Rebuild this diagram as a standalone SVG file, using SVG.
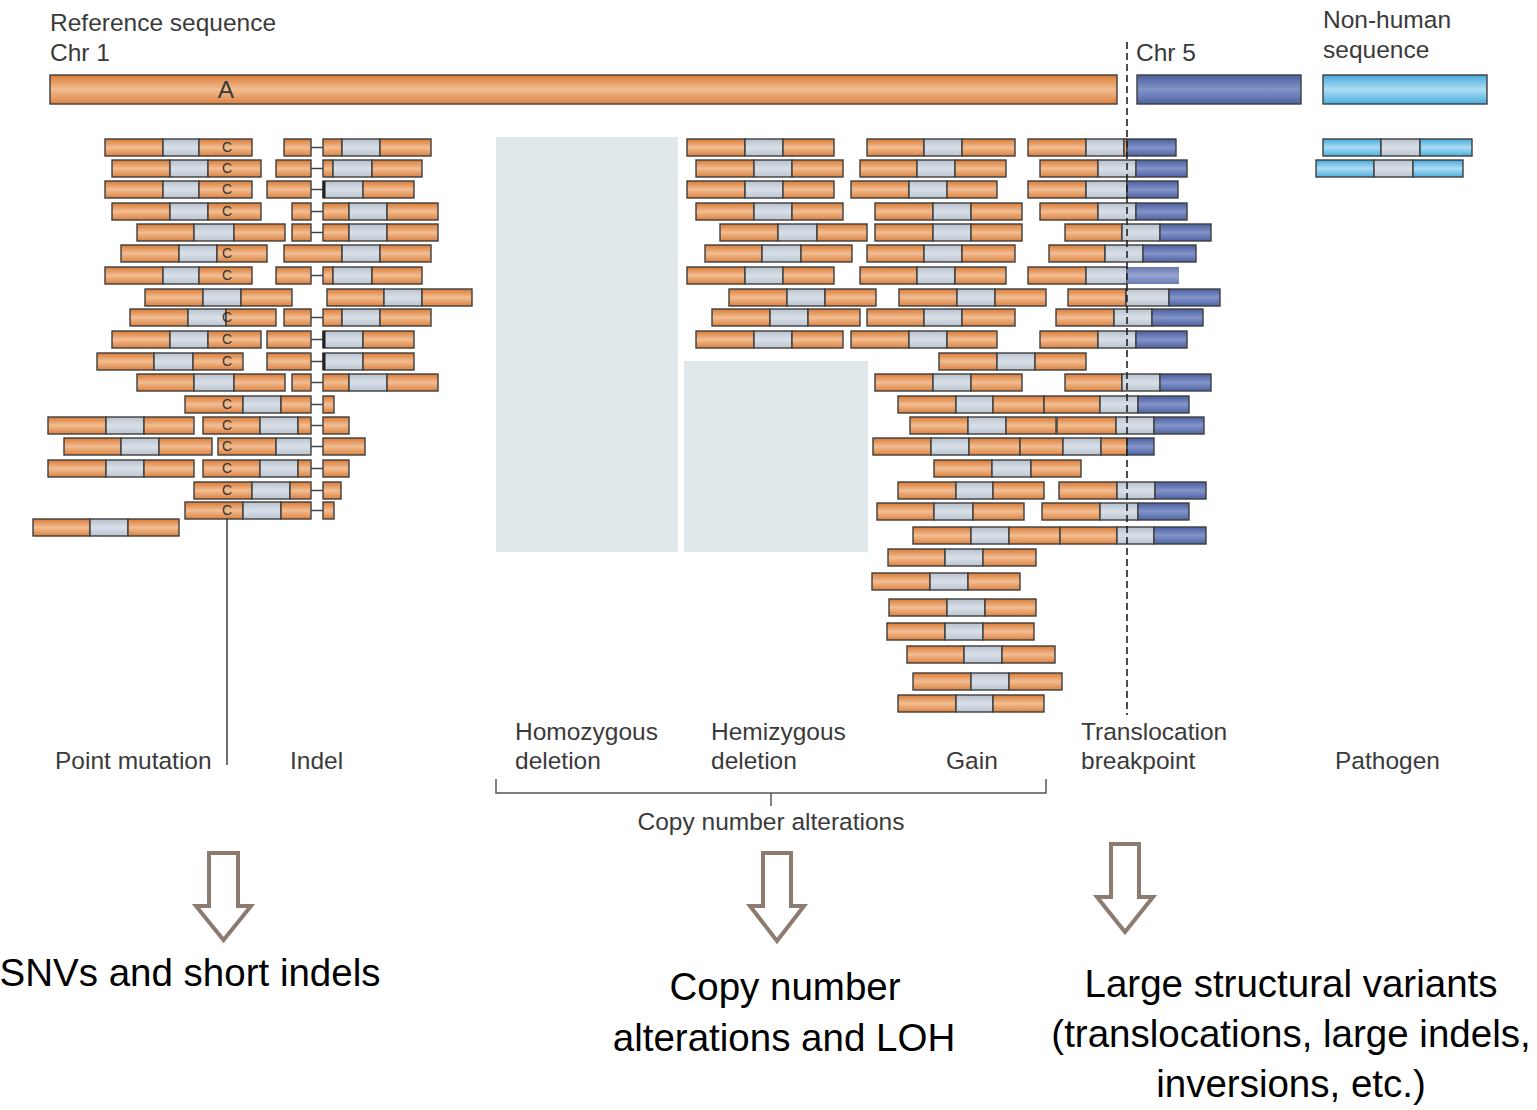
<svg xmlns="http://www.w3.org/2000/svg" width="1537" height="1110" viewBox="0 0 1537 1110">
  <defs>
    <linearGradient id="gO" x1="0" y1="0" x2="0" y2="1">
      <stop offset="0" stop-color="#d97b36"/>
      <stop offset="0.5" stop-color="#f2bd92"/>
      <stop offset="1" stop-color="#dc8240"/>
    </linearGradient>
    <linearGradient id="gG" x1="0" y1="0" x2="0" y2="1">
      <stop offset="0" stop-color="#b8c2ce"/>
      <stop offset="0.5" stop-color="#d8dfe7"/>
      <stop offset="1" stop-color="#bcc6d1"/>
    </linearGradient>
    <linearGradient id="gB" x1="0" y1="0" x2="0" y2="1">
      <stop offset="0" stop-color="#4b5f9f"/>
      <stop offset="0.5" stop-color="#8294c9"/>
      <stop offset="1" stop-color="#4f63a3"/>
    </linearGradient>
    <linearGradient id="gL" x1="0" y1="0" x2="0" y2="1">
      <stop offset="0" stop-color="#47a9dc"/>
      <stop offset="0.5" stop-color="#acdcf4"/>
      <stop offset="1" stop-color="#4cafe0"/>
    </linearGradient>
    <style>
      rect { stroke: #3e3e3e; stroke-width: 1.4; }
      .o { fill: url(#gO); }
      .g { fill: url(#gG); }
      .b { fill: url(#gB); }
      .l { fill: url(#gL); }
      .bf { fill: url(#gB); stroke: none; opacity: 0.85; }
      .zone { fill: #e1e8ec; stroke: none; }
      .c { font-family: "Liberation Sans", Arial, sans-serif; font-size: 14px; fill: #333; text-anchor: middle; }
      .cn { stroke: #444; stroke-width: 1.5; }
      .lbl { font-family: "Liberation Sans", Arial, sans-serif; font-size: 24.5px; fill: #3a3a3a; }
      .big { font-family: "Liberation Sans", Arial, sans-serif; font-size: 38.5px; fill: #000; text-anchor: middle; }
      .arr { fill: #fff; stroke: #8d7b70; stroke-width: 4; stroke-linejoin: miter; }
    </style>
  </defs>

  <!-- reference sequences -->
  <g id="ref-chr1">
    <rect class="o" x="50" y="75" width="1067" height="29"/>
    <text class="lbl" x="226" y="98" text-anchor="middle" font-size="22">A</text>
  </g>
  <g id="ref-chr5"><rect class="b" x="1137" y="75" width="164" height="29"/></g>
  <g id="ref-nonhuman"><rect class="l" x="1323" y="75" width="164" height="29"/></g>

  <!-- deletion zones -->
  <g id="homozygous-zone"><rect class="zone" x="496" y="137" width="182" height="415"/></g>
  <g id="hemizygous-zone"><rect class="zone" x="684" y="361" width="184" height="191"/></g>

  <!-- point mutation reads -->
  <g id="point-mutation-reads">
    <g id="pm0"><rect class="o" x="105" y="139" width="58" height="17"/><rect class="g" x="163" y="139" width="36" height="17"/><rect class="o" x="199" y="139" width="53" height="17"/><text class="c" x="227" y="152">C</text></g>
    <g id="pm1"><rect class="o" x="112" y="160" width="58" height="17"/><rect class="g" x="170" y="160" width="38" height="17"/><rect class="o" x="208" y="160" width="53" height="17"/><text class="c" x="227" y="173">C</text></g>
    <g id="pm2"><rect class="o" x="105" y="181" width="58" height="17"/><rect class="g" x="163" y="181" width="36" height="17"/><rect class="o" x="199" y="181" width="53" height="17"/><text class="c" x="227" y="194">C</text></g>
    <g id="pm3"><rect class="o" x="112" y="203" width="58" height="17"/><rect class="g" x="170" y="203" width="38" height="17"/><rect class="o" x="208" y="203" width="53" height="17"/><text class="c" x="227" y="216">C</text></g>
    <g id="pm4"><rect class="o" x="137" y="224" width="57" height="17"/><rect class="g" x="194" y="224" width="40" height="17"/><rect class="o" x="234" y="224" width="51" height="17"/></g>
    <g id="pm5"><rect class="o" x="121" y="245" width="58" height="17"/><rect class="g" x="179" y="245" width="38" height="17"/><rect class="o" x="217" y="245" width="50" height="17"/><text class="c" x="227" y="258">C</text></g>
    <g id="pm6"><rect class="o" x="105" y="267" width="58" height="17"/><rect class="g" x="163" y="267" width="36" height="17"/><rect class="o" x="199" y="267" width="53" height="17"/><text class="c" x="227" y="280">C</text></g>
    <g id="pm7"><rect class="o" x="145" y="289" width="58" height="17"/><rect class="g" x="203" y="289" width="38" height="17"/><rect class="o" x="241" y="289" width="51" height="17"/></g>
    <g id="pm8"><rect class="o" x="130" y="309" width="58" height="17"/><rect class="g" x="188" y="309" width="38" height="17"/><rect class="o" x="226" y="309" width="50" height="17"/><text class="c" x="227" y="322">C</text></g>
    <g id="pm9"><rect class="o" x="112" y="331" width="58" height="17"/><rect class="g" x="170" y="331" width="38" height="17"/><rect class="o" x="208" y="331" width="53" height="17"/><text class="c" x="227" y="344">C</text></g>
    <g id="pm10"><rect class="o" x="97" y="353" width="57" height="17"/><rect class="g" x="154" y="353" width="39" height="17"/><rect class="o" x="193" y="353" width="50" height="17"/><text class="c" x="227" y="366">C</text></g>
    <g id="pm11"><rect class="o" x="137" y="374" width="57" height="17"/><rect class="g" x="194" y="374" width="40" height="17"/><rect class="o" x="234" y="374" width="51" height="17"/></g>
    <g id="pm12"><rect class="o" x="185" y="396" width="58" height="17"/><rect class="g" x="243" y="396" width="38" height="17"/><rect class="o" x="281" y="396" width="30" height="17"/><text class="c" x="227" y="409">C</text><line class="cn" x1="311" y1="404.5" x2="323" y2="404.5"/><rect class="o" x="323" y="396" width="11" height="17"/></g>
    <g id="pm13a"><rect class="o" x="48" y="417" width="58" height="17"/><rect class="g" x="106" y="417" width="38" height="17"/><rect class="o" x="144" y="417" width="50" height="17"/></g>
    <g id="pm13b"><rect class="o" x="203" y="417" width="57" height="17"/><rect class="g" x="260" y="417" width="38" height="17"/><rect class="o" x="298" y="417" width="13" height="17"/><text class="c" x="227" y="430">C</text><line class="cn" x1="311" y1="425.5" x2="323" y2="425.5"/><rect class="o" x="323" y="417" width="26" height="17"/></g>
    <g id="pm14a"><rect class="o" x="64" y="438" width="57" height="17"/><rect class="g" x="121" y="438" width="38" height="17"/><rect class="o" x="159" y="438" width="53" height="17"/></g>
    <g id="pm14b"><rect class="o" x="218" y="438" width="58" height="17"/><rect class="g" x="276" y="438" width="35" height="17"/><text class="c" x="227" y="451">C</text><line class="cn" x1="311" y1="446.5" x2="323" y2="446.5"/><rect class="o" x="323" y="438" width="42" height="17"/></g>
    <g id="pm15a"><rect class="o" x="48" y="460" width="58" height="17"/><rect class="g" x="106" y="460" width="38" height="17"/><rect class="o" x="144" y="460" width="50" height="17"/></g>
    <g id="pm15b"><rect class="o" x="203" y="460" width="57" height="17"/><rect class="g" x="260" y="460" width="38" height="17"/><rect class="o" x="298" y="460" width="13" height="17"/><text class="c" x="227" y="473">C</text><line class="cn" x1="311" y1="468.5" x2="323" y2="468.5"/><rect class="o" x="323" y="460" width="26" height="17"/></g>
    <g id="pm16"><rect class="o" x="194" y="482" width="58" height="17"/><rect class="g" x="252" y="482" width="38" height="17"/><rect class="o" x="290" y="482" width="21" height="17"/><text class="c" x="227" y="495">C</text><line class="cn" x1="311" y1="490.5" x2="323" y2="490.5"/><rect class="o" x="323" y="482" width="18" height="17"/></g>
    <g id="pm17"><rect class="o" x="185" y="502" width="58" height="17"/><rect class="g" x="243" y="502" width="38" height="17"/><rect class="o" x="281" y="502" width="30" height="17"/><text class="c" x="227" y="515">C</text><line class="cn" x1="311" y1="510.5" x2="323" y2="510.5"/><rect class="o" x="323" y="502" width="11" height="17"/></g>
    <g id="pm18"><rect class="o" x="33" y="519" width="57" height="17"/><rect class="g" x="90" y="519" width="38" height="17"/><rect class="o" x="128" y="519" width="51" height="17"/></g>
  </g>

  <!-- indel reads -->
  <g id="indel-reads">
    <g id="in0"><rect class="o" x="284" y="139" width="27" height="17"/><line class="cn" x1="311" y1="147.5" x2="323" y2="147.5"/><rect class="o" x="323" y="139" width="19" height="17"/><rect class="g" x="342" y="139" width="38" height="17"/><rect class="o" x="380" y="139" width="51" height="17"/></g>
    <g id="in1"><rect class="o" x="276" y="160" width="35" height="17"/><line class="cn" x1="311" y1="168.5" x2="323" y2="168.5"/><rect class="o" x="323" y="160" width="10" height="17"/><rect class="g" x="333" y="160" width="39" height="17"/><rect class="o" x="372" y="160" width="50" height="17"/></g>
    <g id="in2"><rect class="o" x="267" y="181" width="44" height="17"/><line class="cn" x1="311" y1="189.5" x2="323" y2="189.5"/><rect class="g" x="323" y="181" width="40" height="17"/><rect class="o" x="363" y="181" width="51" height="17"/><line x1="324" y1="181" x2="324" y2="198" stroke="#222" stroke-width="3"/></g>
    <g id="in3"><rect class="o" x="292" y="203" width="19" height="17"/><line class="cn" x1="311" y1="211.5" x2="323" y2="211.5"/><rect class="o" x="323" y="203" width="26" height="17"/><rect class="g" x="349" y="203" width="38" height="17"/><rect class="o" x="387" y="203" width="51" height="17"/></g>
    <g id="in4"><rect class="o" x="292" y="224" width="19" height="17"/><line class="cn" x1="311" y1="232.5" x2="323" y2="232.5"/><rect class="o" x="323" y="224" width="26" height="17"/><rect class="g" x="349" y="224" width="38" height="17"/><rect class="o" x="387" y="224" width="51" height="17"/></g>
    <g id="in5"><rect class="o" x="284" y="245" width="58" height="17"/><rect class="g" x="342" y="245" width="38" height="17"/><rect class="o" x="380" y="245" width="51" height="17"/></g>
    <g id="in6"><rect class="o" x="276" y="267" width="35" height="17"/><line class="cn" x1="311" y1="275.5" x2="323" y2="275.5"/><rect class="o" x="323" y="267" width="10" height="17"/><rect class="g" x="333" y="267" width="39" height="17"/><rect class="o" x="372" y="267" width="50" height="17"/></g>
    <g id="in7"><rect class="o" x="327" y="289" width="57" height="17"/><rect class="g" x="384" y="289" width="38" height="17"/><rect class="o" x="422" y="289" width="50" height="17"/></g>
    <g id="in8"><rect class="o" x="284" y="309" width="27" height="17"/><line class="cn" x1="311" y1="317.5" x2="323" y2="317.5"/><rect class="o" x="323" y="309" width="19" height="17"/><rect class="g" x="342" y="309" width="38" height="17"/><rect class="o" x="380" y="309" width="51" height="17"/></g>
    <g id="in9"><rect class="o" x="267" y="331" width="44" height="17"/><line class="cn" x1="311" y1="339.5" x2="323" y2="339.5"/><rect class="g" x="323" y="331" width="40" height="17"/><rect class="o" x="363" y="331" width="51" height="17"/><line x1="324" y1="331" x2="324" y2="348" stroke="#222" stroke-width="3"/></g>
    <g id="in10"><rect class="o" x="267" y="353" width="44" height="17"/><line class="cn" x1="311" y1="361.5" x2="323" y2="361.5"/><rect class="g" x="323" y="353" width="40" height="17"/><rect class="o" x="363" y="353" width="51" height="17"/><line x1="324" y1="353" x2="324" y2="370" stroke="#222" stroke-width="3"/></g>
    <g id="in11"><rect class="o" x="292" y="374" width="19" height="17"/><line class="cn" x1="311" y1="382.5" x2="323" y2="382.5"/><rect class="o" x="323" y="374" width="26" height="17"/><rect class="g" x="349" y="374" width="38" height="17"/><rect class="o" x="387" y="374" width="51" height="17"/></g>
  </g>

  <!-- hemizygous deletion reads -->
  <g id="hemizygous-reads">
    <g id="hz0"><rect class="o" x="687" y="139" width="58" height="17"/><rect class="g" x="745" y="139" width="38" height="17"/><rect class="o" x="783" y="139" width="51" height="17"/></g>
    <g id="hz1"><rect class="o" x="696" y="160" width="58" height="17"/><rect class="g" x="754" y="160" width="38" height="17"/><rect class="o" x="792" y="160" width="51" height="17"/></g>
    <g id="hz2"><rect class="o" x="687" y="181" width="58" height="17"/><rect class="g" x="745" y="181" width="38" height="17"/><rect class="o" x="783" y="181" width="51" height="17"/></g>
    <g id="hz3"><rect class="o" x="696" y="203" width="58" height="17"/><rect class="g" x="754" y="203" width="38" height="17"/><rect class="o" x="792" y="203" width="51" height="17"/></g>
    <g id="hz4"><rect class="o" x="720" y="224" width="58" height="17"/><rect class="g" x="778" y="224" width="39" height="17"/><rect class="o" x="817" y="224" width="50" height="17"/></g>
    <g id="hz5"><rect class="o" x="705" y="245" width="57" height="17"/><rect class="g" x="762" y="245" width="39" height="17"/><rect class="o" x="801" y="245" width="51" height="17"/></g>
    <g id="hz6"><rect class="o" x="687" y="267" width="58" height="17"/><rect class="g" x="745" y="267" width="38" height="17"/><rect class="o" x="783" y="267" width="51" height="17"/></g>
    <g id="hz7"><rect class="o" x="729" y="289" width="58" height="17"/><rect class="g" x="787" y="289" width="38" height="17"/><rect class="o" x="825" y="289" width="51" height="17"/></g>
    <g id="hz8"><rect class="o" x="712" y="309" width="58" height="17"/><rect class="g" x="770" y="309" width="38" height="17"/><rect class="o" x="808" y="309" width="52" height="17"/></g>
    <g id="hz9"><rect class="o" x="696" y="331" width="58" height="17"/><rect class="g" x="754" y="331" width="38" height="17"/><rect class="o" x="792" y="331" width="51" height="17"/></g>
  </g>

  <!-- gain reads -->
  <g id="gain-reads">
    <g id="gn0"><rect class="o" x="867" y="139" width="57" height="17"/><rect class="g" x="924" y="139" width="38" height="17"/><rect class="o" x="962" y="139" width="53" height="17"/></g>
    <g id="gn1"><rect class="o" x="860" y="160" width="57" height="17"/><rect class="g" x="917" y="160" width="38" height="17"/><rect class="o" x="955" y="160" width="51" height="17"/></g>
    <g id="gn2"><rect class="o" x="851" y="181" width="58" height="17"/><rect class="g" x="909" y="181" width="38" height="17"/><rect class="o" x="947" y="181" width="50" height="17"/></g>
    <g id="gn3"><rect class="o" x="875" y="203" width="58" height="17"/><rect class="g" x="933" y="203" width="38" height="17"/><rect class="o" x="971" y="203" width="51" height="17"/></g>
    <g id="gn4"><rect class="o" x="875" y="224" width="58" height="17"/><rect class="g" x="933" y="224" width="38" height="17"/><rect class="o" x="971" y="224" width="51" height="17"/></g>
    <g id="gn5"><rect class="o" x="867" y="245" width="57" height="17"/><rect class="g" x="924" y="245" width="38" height="17"/><rect class="o" x="962" y="245" width="53" height="17"/></g>
    <g id="gn6"><rect class="o" x="860" y="267" width="57" height="17"/><rect class="g" x="917" y="267" width="38" height="17"/><rect class="o" x="955" y="267" width="51" height="17"/></g>
    <g id="gn7"><rect class="o" x="899" y="289" width="58" height="17"/><rect class="g" x="957" y="289" width="38" height="17"/><rect class="o" x="995" y="289" width="51" height="17"/></g>
    <g id="gn8"><rect class="o" x="867" y="309" width="57" height="17"/><rect class="g" x="924" y="309" width="38" height="17"/><rect class="o" x="962" y="309" width="53" height="17"/></g>
    <g id="gn9"><rect class="o" x="851" y="331" width="58" height="17"/><rect class="g" x="909" y="331" width="38" height="17"/><rect class="o" x="947" y="331" width="50" height="17"/></g>
    <g id="gn10"><rect class="o" x="939" y="353" width="58" height="17"/><rect class="g" x="997" y="353" width="38" height="17"/><rect class="o" x="1035" y="353" width="51" height="17"/></g>
    <g id="gn11"><rect class="o" x="875" y="374" width="58" height="17"/><rect class="g" x="933" y="374" width="38" height="17"/><rect class="o" x="971" y="374" width="51" height="17"/></g>
    <g id="gn12"><rect class="o" x="898" y="396" width="58" height="17"/><rect class="g" x="956" y="396" width="37" height="17"/><rect class="o" x="993" y="396" width="51" height="17"/></g>
    <g id="gn13"><rect class="o" x="910" y="417" width="58" height="17"/><rect class="g" x="968" y="417" width="38" height="17"/><rect class="o" x="1006" y="417" width="50" height="17"/></g>
    <g id="gn14"><rect class="o" x="873" y="438" width="58" height="17"/><rect class="g" x="931" y="438" width="38" height="17"/><rect class="o" x="969" y="438" width="51" height="17"/></g>
    <g id="gn15"><rect class="o" x="934" y="460" width="58" height="17"/><rect class="g" x="992" y="460" width="39" height="17"/><rect class="o" x="1031" y="460" width="50" height="17"/></g>
    <g id="gn16"><rect class="o" x="898" y="482" width="58" height="17"/><rect class="g" x="956" y="482" width="37" height="17"/><rect class="o" x="993" y="482" width="51" height="17"/></g>
    <g id="gn17"><rect class="o" x="877" y="503" width="57" height="17"/><rect class="g" x="934" y="503" width="39" height="17"/><rect class="o" x="973" y="503" width="51" height="17"/></g>
    <g id="gn18"><rect class="o" x="913" y="527" width="58" height="17"/><rect class="g" x="971" y="527" width="38" height="17"/><rect class="o" x="1009" y="527" width="51" height="17"/></g>
    <g id="gn19"><rect class="o" x="888" y="549" width="57" height="17"/><rect class="g" x="945" y="549" width="38" height="17"/><rect class="o" x="983" y="549" width="53" height="17"/></g>
    <g id="gn20"><rect class="o" x="872" y="573" width="58" height="17"/><rect class="g" x="930" y="573" width="38" height="17"/><rect class="o" x="968" y="573" width="52" height="17"/></g>
    <g id="gn21"><rect class="o" x="889" y="599" width="58" height="17"/><rect class="g" x="947" y="599" width="38" height="17"/><rect class="o" x="985" y="599" width="51" height="17"/></g>
    <g id="gn22"><rect class="o" x="887" y="623" width="58" height="17"/><rect class="g" x="945" y="623" width="38" height="17"/><rect class="o" x="983" y="623" width="51" height="17"/></g>
    <g id="gn23"><rect class="o" x="907" y="646" width="57" height="17"/><rect class="g" x="964" y="646" width="38" height="17"/><rect class="o" x="1002" y="646" width="53" height="17"/></g>
    <g id="gn24"><rect class="o" x="913" y="673" width="58" height="17"/><rect class="g" x="971" y="673" width="38" height="17"/><rect class="o" x="1009" y="673" width="53" height="17"/></g>
    <g id="gn25"><rect class="o" x="898" y="695" width="58" height="17"/><rect class="g" x="956" y="695" width="37" height="17"/><rect class="o" x="993" y="695" width="51" height="17"/></g>
  </g>

  <!-- translocation reads (chr1 joined to chr5) -->
  <g id="translocation-reads">
    <g id="tr0"><rect class="o" x="1028" y="139" width="58" height="17"/><rect class="g" x="1086" y="139" width="38" height="17"/><rect class="o" x="1124" y="139" width="3" height="17"/><rect class="b" x="1127" y="139" width="49" height="17"/></g>
    <g id="tr1"><rect class="o" x="1040" y="160" width="58" height="17"/><rect class="g" x="1098" y="160" width="38" height="17"/><rect class="b" x="1136" y="160" width="51" height="17"/></g>
    <g id="tr2"><rect class="o" x="1028" y="181" width="58" height="17"/><rect class="g" x="1086" y="181" width="41" height="17"/><rect class="b" x="1127" y="181" width="51" height="17"/></g>
    <g id="tr3"><rect class="o" x="1040" y="203" width="58" height="17"/><rect class="g" x="1098" y="203" width="38" height="17"/><rect class="b" x="1136" y="203" width="51" height="17"/></g>
    <g id="tr4"><rect class="o" x="1065" y="224" width="57" height="17"/><rect class="g" x="1122" y="224" width="38" height="17"/><rect class="b" x="1160" y="224" width="51" height="17"/></g>
    <g id="tr5"><rect class="o" x="1049" y="245" width="56" height="17"/><rect class="g" x="1105" y="245" width="38" height="17"/><rect class="b" x="1143" y="245" width="53" height="17"/></g>
    <g id="tr6"><rect class="o" x="1028" y="267" width="58" height="17"/><rect class="g" x="1086" y="267" width="41" height="17"/><rect class="bf" x="1127" y="267" width="52" height="17"/></g>
    <g id="tr7"><rect class="o" x="1068" y="289" width="58" height="17"/><rect class="g" x="1126" y="289" width="43" height="17"/><rect class="b" x="1169" y="289" width="51" height="17"/></g>
    <g id="tr8"><rect class="o" x="1056" y="309" width="58" height="17"/><rect class="g" x="1114" y="309" width="38" height="17"/><rect class="b" x="1152" y="309" width="51" height="17"/></g>
    <g id="tr9"><rect class="o" x="1040" y="331" width="58" height="17"/><rect class="g" x="1098" y="331" width="38" height="17"/><rect class="b" x="1136" y="331" width="51" height="17"/></g>
    <g id="tr11"><rect class="o" x="1065" y="374" width="57" height="17"/><rect class="g" x="1122" y="374" width="38" height="17"/><rect class="b" x="1160" y="374" width="51" height="17"/></g>
    <g id="tr12"><rect class="o" x="1044" y="396" width="56" height="17"/><rect class="g" x="1100" y="396" width="38" height="17"/><rect class="b" x="1138" y="396" width="51" height="17"/></g>
    <g id="tr13"><rect class="o" x="1057" y="417" width="59" height="17"/><rect class="g" x="1116" y="417" width="38" height="17"/><rect class="b" x="1154" y="417" width="50" height="17"/></g>
    <g id="tr14"><rect class="o" x="1020" y="438" width="43" height="17"/><rect class="g" x="1063" y="438" width="38" height="17"/><rect class="o" x="1101" y="438" width="26" height="17"/><rect class="b" x="1127" y="438" width="27" height="17"/></g>
    <g id="tr16"><rect class="o" x="1059" y="482" width="58" height="17"/><rect class="g" x="1117" y="482" width="38" height="17"/><rect class="b" x="1155" y="482" width="51" height="17"/></g>
    <g id="tr17"><rect class="o" x="1042" y="503" width="58" height="17"/><rect class="g" x="1100" y="503" width="38" height="17"/><rect class="b" x="1138" y="503" width="51" height="17"/></g>
    <g id="tr18"><rect class="o" x="1060" y="527" width="57" height="17"/><rect class="g" x="1117" y="527" width="37" height="17"/><rect class="b" x="1154" y="527" width="52" height="17"/></g>
  </g>

  <!-- pathogen reads -->
  <g id="pathogen-reads">
    <g id="pt0"><rect class="l" x="1323" y="139" width="58" height="17"/><rect class="g" x="1381" y="139" width="39" height="17"/><rect class="l" x="1420" y="139" width="52" height="17"/></g>
    <g id="pt1"><rect class="l" x="1316" y="160" width="58" height="17"/><rect class="g" x="1374" y="160" width="39" height="17"/><rect class="l" x="1413" y="160" width="50" height="17"/></g>
  </g>

  <!-- connectors: breakpoint line, SNV pointer, bracket, arrows -->
  <g id="connectors" fill="none">
    <line x1="1127" y1="42" x2="1127" y2="715" stroke="#222" stroke-width="1.6" stroke-dasharray="7 4"/>
    <line x1="227" y1="519" x2="227" y2="765" stroke="#333" stroke-width="1.4"/>
    <path d="M496,779 V793 H1046 V779 M771,793 V806" stroke="#555" stroke-width="1.5"/>
    <path class="arr" d="M209,853 H238 V906 H251 L223.5,940 L196,906 H209 Z"/>
    <path class="arr" d="M763,853 H791 V906 H804 L777,941 L750,906 H763 Z"/>
    <path class="arr" d="M1111,844 H1139 V897 H1153 L1125,932 L1097,897 H1111 Z"/>
  </g>

  <!-- labels -->
  <g id="labels">
    <text class="lbl" x="50" y="31">Reference sequence</text>
    <text class="lbl" x="50" y="61">Chr 1</text>
    <text class="lbl" x="1136" y="61">Chr 5</text>
    <text class="lbl" x="1323" y="28">Non-human</text>
    <text class="lbl" x="1323" y="58">sequence</text>
    <text class="lbl" x="55" y="769">Point mutation</text>
    <text class="lbl" x="290" y="769">Indel</text>
    <text class="lbl" x="515" y="740">Homozygous</text>
    <text class="lbl" x="515" y="769">deletion</text>
    <text class="lbl" x="711" y="740">Hemizygous</text>
    <text class="lbl" x="711" y="769">deletion</text>
    <text class="lbl" x="946" y="769">Gain</text>
    <text class="lbl" x="1081" y="740">Translocation</text>
    <text class="lbl" x="1081" y="769">breakpoint</text>
    <text class="lbl" x="1335" y="769">Pathogen</text>
    <text class="lbl" x="771" y="830" text-anchor="middle">Copy number alterations</text>
    <text class="big" x="190" y="986">SNVs and short indels</text>
    <text class="big" x="785" y="1000">Copy number</text>
    <text class="big" x="784" y="1051">alterations and LOH</text>
    <text class="big" x="1291" y="997">Large structural variants</text>
    <text class="big" x="1291" y="1047">(translocations, large indels,</text>
    <text class="big" x="1291" y="1097">inversions, etc.)</text>
  </g>
</svg>
